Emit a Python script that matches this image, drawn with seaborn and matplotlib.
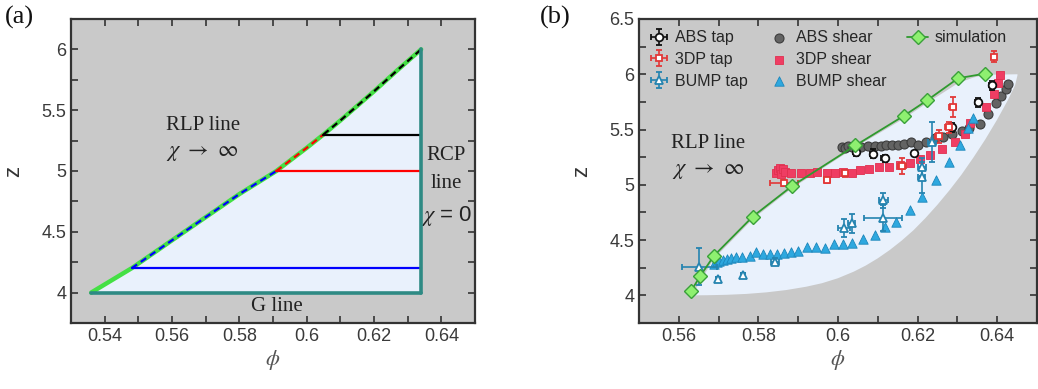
import numpy as np
import pandas as pd
import matplotlib
matplotlib.use("Agg")
import matplotlib.pyplot as plt
from matplotlib.ticker import MultipleLocator
from matplotlib.lines import Line2D
import seaborn as sns

# ---------------- panel (a) data ----------------
rlp_phi = [0.536, 0.548, 0.56, 0.57, 0.58, 0.591, 0.6, 0.605, 0.61, 0.62, 0.627, 0.634]
rlp_z = [4.0, 4.2, 4.43, 4.62, 4.81, 5.0, 5.19, 5.3, 5.415, 5.655, 5.83, 6.0]
rcp_phi = 0.634
g_z = 4.0
iso_z = [4.2, 5.0, 5.3]
iso_phi = [0.548, 0.591, 0.605]
iso_colors = ["#0000ff", "#ff0000", "#000000"]

# ---------------- panel (b) data ----------------
sim_phi = [0.5631, 0.5654, 0.5688, 0.5786, 0.5885, 0.6044, 0.6166, 0.6224, 0.6302, 0.637]
sim_z = [4.04, 4.175, 4.357, 4.713, 4.99, 5.356, 5.625, 5.764, 5.964, 6.006]

# light blue region between two boundaries
band_up_phi = [0.5633, 0.5688, 0.5786, 0.5885, 0.6044, 0.6166, 0.6224, 0.6302, 0.634, 0.637, 0.6451]
band_up_z = [4.0, 4.33, 4.69, 4.97, 5.34, 5.60, 5.74, 5.92, 5.97, 5.995, 6.0]
band_lo_phi = [0.5633, 0.567, 0.572, 0.577, 0.582, 0.587, 0.592, 0.596, 0.600, 0.604,
               0.607, 0.610, 0.613, 0.616, 0.619, 0.622, 0.625, 0.628, 0.631, 0.634,
               0.637, 0.640, 0.6426, 0.6445, 0.6451]
band_lo_z = [4.0, 4.001, 4.005, 4.013, 4.027, 4.048, 4.078, 4.11, 4.155, 4.215,
             4.27, 4.335, 4.41, 4.495, 4.59, 4.70, 4.82, 4.95, 5.09, 5.245,
             5.41, 5.59, 5.76, 5.90, 5.99]

abs_shear_phi = [0.6010, 0.6018, 0.6026, 0.6035, 0.6045, 0.6058, 0.6075, 0.6092, 0.6107,
                 0.6121, 0.6137, 0.6150, 0.6166, 0.6183, 0.6200, 0.6220, 0.6245, 0.6265,
                 0.6287, 0.6311, 0.6330, 0.6356, 0.6377, 0.6398, 0.6410, 0.6422, 0.6427]
abs_shear_z = [5.34, 5.33, 5.35, 5.34, 5.35, 5.34, 5.35, 5.35, 5.355, 5.36, 5.356, 5.36,
               5.37, 5.39, 5.36, 5.39, 5.42, 5.43, 5.46, 5.49, 5.51, 5.55, 5.645, 5.74,
               5.80, 5.87, 5.91]

dp_shear_phi = [0.5845, 0.5850, 0.5855, 0.5858, 0.5862, 0.5868, 0.5881, 0.5906, 0.5930,
                0.5947, 0.5972, 0.5993, 0.6013, 0.6034, 0.6055, 0.6079, 0.6104, 0.6129,
                0.6155, 0.6180, 0.6207, 0.6232, 0.6261, 0.6294, 0.6320, 0.6331, 0.6373,
                0.6391, 0.6402, 0.6408]
dp_shear_z = [5.11, 5.13, 5.15, 5.10, 5.14, 5.12, 5.105, 5.105, 5.11, 5.12, 5.11, 5.105,
              5.12, 5.105, 5.13, 5.14, 5.165, 5.16, 5.18, 5.20, 5.23, 5.27, 5.32, 5.39,
              5.46, 5.56, 5.70, 5.82, 5.92, 5.99]

bump_shear_phi = [0.5688, 0.5695, 0.5702, 0.5710, 0.5720, 0.5732, 0.5745, 0.5760, 0.5778,
                  0.5794, 0.5812, 0.5830, 0.5848, 0.5865, 0.5882, 0.5900, 0.5922, 0.5945,
                  0.5968, 0.5990, 0.6012, 0.6035, 0.6063, 0.6092, 0.6117, 0.6145, 0.6180,
                  0.6210, 0.6246, 0.6278, 0.6307, 0.6327, 0.6340]
bump_shear_z = [4.28, 4.30, 4.31, 4.32, 4.33, 4.34, 4.35, 4.35, 4.36, 4.39, 4.37, 4.37,
                4.37, 4.38, 4.39, 4.40, 4.44, 4.44, 4.43, 4.46, 4.46, 4.47, 4.51, 4.55,
                4.62, 4.66, 4.77, 4.89, 5.04, 5.21, 5.36, 5.51, 5.60]

abs_tap_phi = [0.6046, 0.6088, 0.6117, 0.6191, 0.6286, 0.6352, 0.6387]
abs_tap_z = [5.30, 5.28, 5.24, 5.29, 5.52, 5.745, 5.90]
abs_tap_xerr = [0.0008, 0.0008, 0.0008, 0.0006, 0.0008, 0.0008, 0.0008]
abs_tap_zerr = [0.04, 0.04, 0.03, 0.02, 0.04, 0.04, 0.04]

dp_tap_phi = [0.5864, 0.5972, 0.6017, 0.6162, 0.6253, 0.6278, 0.6288, 0.6391]
dp_tap_z = [5.015, 5.045, 5.105, 5.17, 5.44, 5.52, 5.70, 6.16]
dp_tap_xerr = [0.0035, 0.0008, 0.0008, 0.0010, 0.0008, 0.0008, 0.0008, 0.0006]
dp_tap_zerr = [0.03, 0.03, 0.03, 0.07, 0.06, 0.05, 0.09, 0.05]

bump_tap_phi = [0.5652, 0.5698, 0.5762, 0.5842, 0.6016, 0.6034, 0.6114, 0.6114, 0.6210,
                0.6212, 0.6237]
bump_tap_z = [4.26, 4.145, 4.18, 4.305, 4.61, 4.65, 4.86, 4.70, 5.07, 5.16, 5.39]
bump_tap_xerr = [0.0043, 0.0005, 0.0005, 0.0010, 0.0015, 0.0008, 0.0012, 0.0048, 0.0008,
                 0.0010, 0.0010]
bump_tap_zerr = [0.165, 0.02, 0.02, 0.03, 0.08, 0.09, 0.07, 0.12, 0.14, 0.08, 0.18]

BG = "#c9c9c9"
FILL = "#e9f1fc"
TEAL = "#2e8a84"

sns.set_style("ticks")
plt.rcParams["font.family"] = ["Liberation Sans", "DejaVu Sans"]
plt.rcParams["mathtext.fontset"] = "stix"
serif = ["Liberation Serif", "DejaVu Serif"]

fig = plt.figure(figsize=(10.38, 3.89), dpi=100)
ax1 = fig.add_axes([0.0684, 0.1697, 0.3892, 0.7815])
ax2 = fig.add_axes([0.6156, 0.1697, 0.3834, 0.7815])


def style_axes(ax):
    ax.set_facecolor(BG)
    for s in ax.spines.values():
        s.set_linewidth(1.6)
        s.set_color("#333333")
    ax.tick_params(which="both", direction="in", top=True, right=True,
                   labelsize=13, colors="#333333", labelcolor="#3a3a3a")
    ax.tick_params(which="major", length=5, width=1.2)
    ax.tick_params(which="minor", length=5, width=1.2)
    ax.xaxis.set_major_locator(MultipleLocator(0.02))
    ax.xaxis.set_minor_locator(MultipleLocator(0.01))
    ax.yaxis.set_major_locator(MultipleLocator(0.5))
    ax.yaxis.set_minor_locator(MultipleLocator(0.25))
    ax.xaxis.set_major_formatter(plt.FuncFormatter(lambda v, p: f"{v:g}"))
    ax.yaxis.set_major_formatter(plt.FuncFormatter(lambda v, p: f"{v:g}"))
    ax.set_xlabel(r"$\phi$", fontsize=16, color="#555555", labelpad=2)
    ax.set_ylabel("z", fontsize=16, color="#333333", labelpad=12)


# ---------------- panel (a) ----------------
style_axes(ax1)
ax1.set_xlim(0.53, 0.65)
ax1.set_ylim(3.75, 6.25)

poly_phi = list(rlp_phi) + [rcp_phi]
poly_z = list(rlp_z) + [g_z]
ax1.fill(poly_phi, poly_z, color=FILL, lw=0, zorder=1)

sns.lineplot(x=rlp_phi, y=rlp_z, ax=ax1, color="#44e044", lw=3.2, sort=False, zorder=3)
bounds = iso_z + [6.0]
rp = np.array(rlp_phi)
rz = np.array(rlp_z)
for lo, hi, c in zip(bounds[:-1], bounds[1:], iso_colors):
    m = (rz >= lo) & (rz <= hi)
    ax1.plot(rp[m], rz[m], color=c, lw=1.6, ls=(0, (3, 2)), zorder=4)
for zz, pp, c in zip(iso_z, iso_phi, iso_colors):
    ax1.plot([pp, rcp_phi], [zz, zz], color=c, lw=1.6, zorder=4)
ax1.plot([rlp_phi[0], rcp_phi], [g_z, g_z], color=TEAL, lw=2.6, zorder=5)
ax1.plot([rcp_phi, rcp_phi], [g_z, 6.0], color=TEAL, lw=2.6, zorder=5)

ax1.text(0.5692, 5.37, "RLP line", family=serif, fontsize=15, ha="center", va="center", color="#222222")
ax1.text(0.5692, 5.15, r"$\chi$ $\rightarrow$ $\infty$", fontsize=16, ha="center", va="center", color="#222222")
ax1.text(0.6415, 5.13, "RCP", family=serif, fontsize=15, ha="center", va="center", color="#222222")
ax1.text(0.6415, 4.90, "line", family=serif, fontsize=15, ha="center", va="center", color="#222222")
ax1.text(0.6415, 4.63, r"$\chi$ = 0", fontsize=16, ha="center", va="center", color="#222222")
ax1.text(0.5912, 3.885, "G line", family=serif, fontsize=15, ha="center", va="center", color="#222222")

# ---------------- panel (b) ----------------
style_axes(ax2)
ax2.set_xlim(0.55, 0.65)
ax2.set_ylim(3.75, 6.5)

ax2.fill(list(band_up_phi) + list(band_lo_phi[::-1]), list(band_up_z) + list(band_lo_z[::-1]),
         color=FILL, lw=0, zorder=1)

sns.scatterplot(x=abs_shear_phi, y=abs_shear_z, ax=ax2, marker="o", s=42,
                color="#636363", edgecolor="#3c3c3c", linewidth=0.8, zorder=3, label="ABS shear")
sns.scatterplot(x=dp_shear_phi, y=dp_shear_z, ax=ax2, marker="s", s=34,
                color="#ef3d63", edgecolor="#e0304f", linewidth=0.6, zorder=3, label="3DP shear")
sns.scatterplot(x=bump_shear_phi, y=bump_shear_z, ax=ax2, marker="^", s=46,
                color="#2ea8df", edgecolor="#1c86bb", linewidth=0.6, zorder=3, label="BUMP shear")

ax2.errorbar(abs_tap_phi, abs_tap_z, xerr=abs_tap_xerr, yerr=abs_tap_zerr, fmt="o",
             ms=5.5, mfc="white", mec="#111111", mew=1.3, ecolor="#111111",
             elinewidth=1.2, capsize=2.5, capthick=1.2, zorder=4, label="ABS tap")
ax2.errorbar(dp_tap_phi, dp_tap_z, xerr=dp_tap_xerr, yerr=dp_tap_zerr, fmt="s",
             ms=5, mfc="white", mec="#e23838", mew=1.3, ecolor="#e23838",
             elinewidth=1.2, capsize=2.5, capthick=1.2, zorder=4, label="3DP tap")
ax2.errorbar(bump_tap_phi, bump_tap_z, xerr=bump_tap_xerr, yerr=bump_tap_zerr, fmt="^",
             ms=6, mfc="white", mec="#2584b0", mew=1.3, ecolor="#2584b0",
             elinewidth=1.2, capsize=2.5, capthick=1.2, zorder=4, label="BUMP tap")

sim_df = pd.DataFrame({"phi": sim_phi, "z": sim_z})
sns.lineplot(data=sim_df, x="phi", y="z", ax=ax2, color="#2f9a2f", lw=1.3, marker="D",
             markersize=7, markerfacecolor="#8ef070", markeredgecolor="#3aa03a",
             markeredgewidth=1.0, sort=False, zorder=5, label="simulation")

handles, labels = ax2.get_legend_handles_labels()
lookup = dict(zip(labels, handles))
blank = Line2D([], [], lw=0, marker=None)
order = ["ABS tap", "3DP tap", "BUMP tap", "ABS shear", "3DP shear", "BUMP shear", "simulation"]
leg_handles = [lookup[k] for k in order] + [blank, blank]
leg_labels = order + ["", ""]
ax2.legend(leg_handles, leg_labels, ncol=3, loc="upper left",
           bbox_to_anchor=(-0.005, 1.0), frameon=False, fontsize=11.5,
           handlelength=1.3, handletextpad=0.4, columnspacing=1.3, labelspacing=0.42,
           borderaxespad=0.3)

ax2.text(0.5674, 5.377, "RLP line", family=serif, fontsize=15, ha="center", va="center", color="#222222")
ax2.text(0.5674, 5.13, r"$\chi$ $\rightarrow$ $\infty$", fontsize=16, ha="center", va="center", color="#222222")

fig.text(0.005, 0.955, "(a)", family=serif, fontsize=19, ha="left", va="center", color="#111111")
fig.text(0.52, 0.955, "(b)", family=serif, fontsize=19, ha="left", va="center", color="#111111")

fig.savefig("out.png", dpi=100)
